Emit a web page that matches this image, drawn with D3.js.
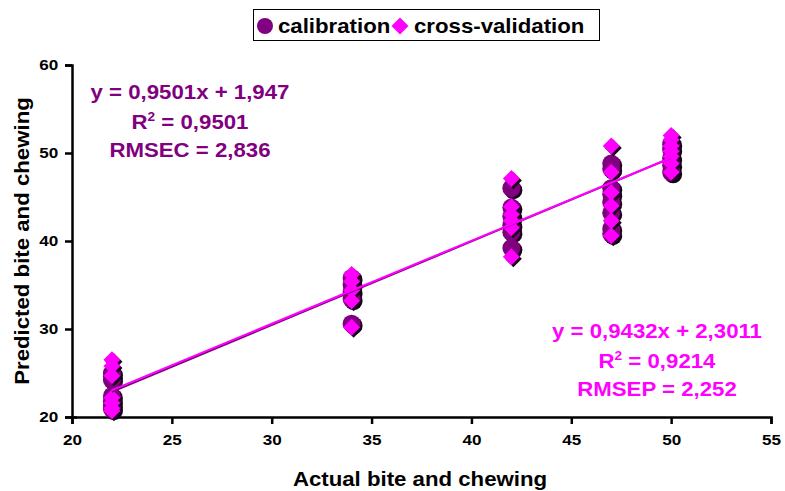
<!DOCTYPE html>
<html>
<head>
<meta charset="utf-8">
<script src="https://cdn.jsdelivr.net/npm/d3@7"></script>
<style>
  body { margin: 0; background: #fff; }
  text { font-family: "Liberation Sans", Arial, sans-serif; font-weight: bold; }
</style>
</head>
<body>
<svg width="785" height="491"></svg>
<script>
// actual (x) and predicted (y) values
const calActual = [22,22,22,22,22,22,22, 34,34,34,34,34, 42,42,42,42,42,42, 47,47,47,47,47,47,47,47, 50,50,50,50,50]
const calPred   = [25.0,24.6,24.2,22.4,21.8,21.3,20.9, 35.8,35.0,34.2,33.4,30.6, 46.0,43.8,42.8,41.8,41.0,39.2, 48.8,48.2,46.0,45.3,44.4,43.2,41.4,40.8, 51.0,50.4,49.4,48.6,47.8]
const cvActual  = [22,22,22,22,22,22,22, 34,34,34,34,34, 42,42,42,42,42,42, 47,47,47,47,47,47, 50,50,50,50,50,50,50]
const cvPred    = [26.5,25.8,24.7,22.2,21.6,21.0,20.7, 36.2,35.4,34.4,33.2,30.2, 47.1,43.9,43.0,42.3,41.5,38.2, 50.8,47.8,45.5,44.0,42.3,40.6, 52.0,51.5,50.8,50.2,49.6,48.8,47.8]

const xTicks = [20, 25, 30, 35, 40, 45, 50, 55]
const yTicks = [20, 30, 40, 50, 60]

const calFit = { slope: 0.9501, intercept: 1.947 }
const cvFit = { slope: 0.9432, intercept: 2.3011 }
const fitRange = [22, 50]

const calText = ["y = 0,9501x + 1,947", "R2 = 0,9501", "RMSEC = 2,836"]
const cvText = ["y = 0,9432x + 2,3011", "R2 = 0,9214", "RMSEP = 2,252"]

const purple = "#800080"
const magenta = "#FF00FF"
const stretch = 1.14   // the original lettering is a bit wider than Arial

const svg = d3.select("svg")

const x = d3.scaleLinear().domain([20, 55]).range([72, 771])
const y = d3.scaleLinear().domain([20, 60]).range([417, 65])

// text placed at (px, py), widened horizontally
function label(parent, px, py, size, anchor, rotate) {
    return parent.append("text")
        .attr("transform", `translate(${px}, ${py})` + (rotate ? ` rotate(${rotate})` : "") + ` scale(${stretch}, 1)`)
        .attr("text-anchor", anchor)
        .style("font-size", size + "px")
}

// axes
const xAxis = svg.append("g")
    .attr("transform", `translate(0, ${y(20)})`)
    .call(d3.axisBottom(x).tickValues(xTicks).tickSize(7).tickPadding(10))
const yAxis = svg.append("g")
    .attr("transform", `translate(${x(20)}, 0)`)
    .call(d3.axisLeft(y).tickValues(yTicks).tickSize(7).tickPadding(5))

;[xAxis, yAxis].forEach(a => {
    a.select(".domain").attr("stroke", "#000").attr("stroke-width", 2.5)
    a.selectAll(".tick line").attr("stroke", "#000").attr("stroke-width", 2.5)
    a.selectAll(".tick text")
        .style("font-size", "15px")
        .style("font-family", "Liberation Sans, Arial, sans-serif")
        .style("font-weight", "bold")
        .attr("fill", "#000")
        .attr("transform", `scale(${stretch}, 1)`)
})
// little cross at the origin tick
yAxis.select(".tick line").attr("x2", 5).attr("x1", -7)

// axis titles
label(svg, 420, 486, 19.5, "middle").text("Actual bite and chewing")
label(svg, 29, 241, 19.5, "middle", -90).text("Predicted bite and chewing")

// markers
const diamond = s => `M0,${-s} L${s},0 L0,${s} L${-s},0 Z`

function drawCircles(xs, ys) {
    const g = svg.append("g")
    const pts = xs.map((d, i) => [d, ys[i]])
    g.selectAll("circle.sh").data(pts).enter().append("circle")
        .attr("cx", d => x(d[0]) + 2).attr("cy", d => y(d[1]) + 2)
        .attr("r", 9).attr("fill", "#1a001a")
    g.selectAll("circle.pt").data(pts).enter().append("circle")
        .attr("cx", d => x(d[0])).attr("cy", d => y(d[1]))
        .attr("r", 9).attr("fill", purple)
}

function drawDiamonds(xs, ys) {
    const g = svg.append("g")
    const pts = xs.map((d, i) => [d, ys[i]])
    g.selectAll("path.sh").data(pts).enter().append("path")
        .attr("d", diamond(8.5))
        .attr("transform", d => `translate(${x(d[0]) + 2}, ${y(d[1]) + 2})`)
        .attr("fill", "#1a001a")
    g.selectAll("path.pt").data(pts).enter().append("path")
        .attr("d", diamond(8.5))
        .attr("transform", d => `translate(${x(d[0])}, ${y(d[1])})`)
        .attr("fill", magenta)
}

drawCircles(calActual, calPred)
drawDiamonds(cvActual, cvPred)

// trend lines
const line = d3.line().x(d => x(d[0])).y(d => y(d[1]))
;[[calFit, purple], [cvFit, magenta]].forEach(([f, c]) => {
    svg.append("path")
        .datum(fitRange.map(v => [v, f.slope * v + f.intercept]))
        .attr("d", line)
        .attr("stroke", c)
        .attr("stroke-width", 2)
        .attr("fill", "none")
})

// equation labels
function drawLabel(lines, cx, ys, color) {
    lines.forEach((t, i) => {
        const txt = label(svg, cx, ys[i], 19.5, "middle").attr("fill", color)
        if (t.startsWith("R2")) {
            txt.append("tspan").text("R")
            txt.append("tspan").attr("dy", -8).style("font-size", "12px").text("2")
            txt.append("tspan").attr("dy", 8).text(t.slice(2))
        } else {
            txt.text(t)
        }
    })
}
drawLabel(calText, 190, [99, 129, 157], purple)
drawLabel(cvText, 657, [338, 368, 396], magenta)

// legend
const lg = svg.append("g")
lg.append("rect")
    .attr("x", 253.5).attr("y", 9.5).attr("width", 346).attr("height", 31)
    .attr("fill", "#fff").attr("stroke", "#000").attr("stroke-width", 1)
lg.append("circle").attr("cx", 265).attr("cy", 26).attr("r", 8).attr("fill", purple)
label(lg, 278, 32.5, 19.5, "start").text("calibration")
lg.append("path").attr("d", diamond(8.5)).attr("transform", "translate(400, 26)").attr("fill", magenta)
label(lg, 414, 32.5, 19.5, "start").text("cross-validation")
</script>
</body>
</html>
